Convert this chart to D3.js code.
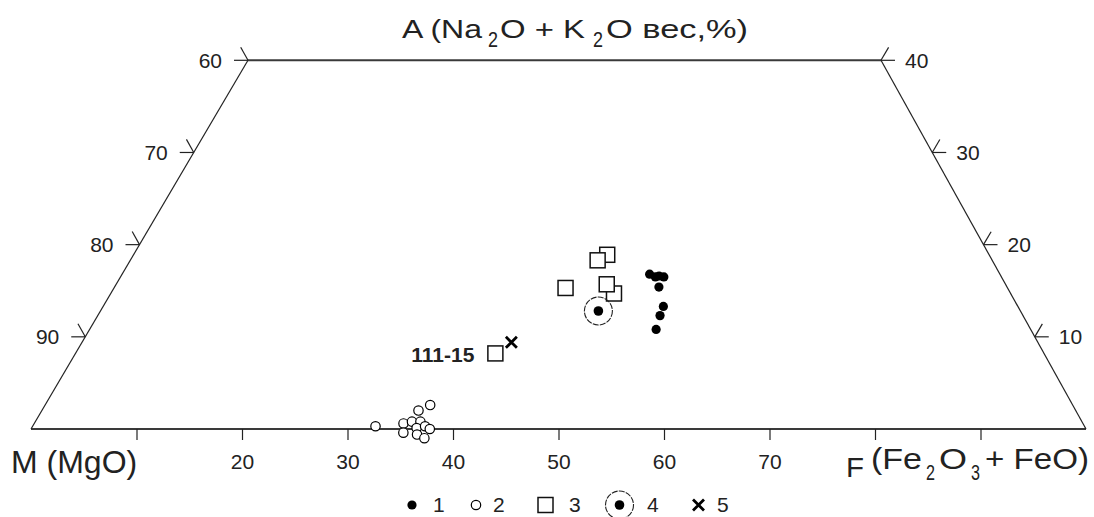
<!DOCTYPE html>
<meta charset="utf-8">
<title>AFM diagram</title>
<style>
  body { margin: 0; background: #fff; }
  svg text { font-family: "Liberation Sans", Arial, sans-serif; fill: #222; }
</style>
<script src="https://d3js.org/d3.v7.min.js"></script>
<svg id="afm" width="1094" height="517"></svg>
<script>
// values, A and F in wt.%  (M = 100 - A - F)
const s1A = [16.8, 16.5, 16.6, 16.5, 15.4, 13.3, 12.3, 10.8];
const s1F = [50.0, 50.7, 51.0, 51.5, 51.6, 53.1, 53.3, 53.7];
const s2A = [0.3, 0.6, -0.4, 0.8, 2.0, 2.6, 0.8, 0.1, 0.3, -0.6, -1.0, 0.0];
const s2F = [32.5, 35.0, 35.5, 35.7, 35.7, 36.5, 36.5, 36.5, 37.2, 36.9, 37.8, 37.8];
const s3A = [18.9, 18.3, 15.3, 14.7, 15.7, 8.2];
const s3F = [44.9, 44.3, 42.8, 47.7, 46.5, 39.8];
const s3Names = ["", "", "", "", "", "111-15"];
const s4A = [12.8];
const s4F = [47.2];
const s5A = [9.4];
const s5F = [40.7];

const leftTicks = [60, 70, 80, 90];      // M on the M-A side
const rightTicks = [40, 30, 20, 10];     // A on the A-F side
const bottomTicks = [10, 20, 30, 40, 50, 60, 70, 80, 90];
const bottomLabels = [20, 30, 40, 50, 60, 70];
const legendLabels = ["1", "2", "3", "4", "5"];
const topA = 40;

const svg = d3.select("#afm");

// ternary -> screen: bottom axis is F, height is A, apex is slightly skewed
const x = d3.scaleLinear().domain([0, 100]).range([31, 1086]);
const y = d3.scaleLinear().domain([0, 100]).range([429, -492.75]);
const skew = 0.5142;
const px = (a, f) => x(f + skew * a);
const py = a => y(a);

const ink = "#222";

// frame
const tl = [px(topA, 0), py(topA)], tr = [px(topA, 100 - topA), py(topA)];
const ml = [x(0), y(0)], fr = [x(100), y(0)];
const frame = svg.append("g").attr("fill", "none");
frame.append("line").attr("x1", tl[0]).attr("y1", tl[1]).attr("x2", tr[0]).attr("y2", tr[1])
  .attr("stroke", "#3a3a3a").attr("stroke-width", 2);
frame.append("line").attr("x1", ml[0]).attr("y1", ml[1]).attr("x2", fr[0]).attr("y2", fr[1])
  .attr("stroke", "#3a3a3a").attr("stroke-width", 2);
frame.append("line").attr("x1", ml[0]).attr("y1", ml[1]).attr("x2", tl[0]).attr("y2", tl[1])
  .attr("stroke", ink).attr("stroke-width", 1.2);
frame.append("line").attr("x1", fr[0]).attr("y1", fr[1]).attr("x2", tr[0]).attr("y2", tr[1])
  .attr("stroke", ink).attr("stroke-width", 1.2);

// bottom axis (F)
const bax = svg.append("g")
  .attr("transform", `translate(0,${y(0)})`)
  .call(d3.axisBottom(x).tickValues(bottomTicks).tickSize(11).tickPadding(14)
    .tickFormat(d => bottomLabels.includes(d) ? d : ""));
bax.select(".domain").remove();
bax.selectAll(".tick line").attr("stroke", ink).attr("stroke-width", 1.2);
bax.selectAll(".tick text").attr("font-size", 21).attr("font-family", "Liberation Sans, Arial, sans-serif").attr("fill", ink);

// side ticks
const tickLen = 14;
const lDir = [-0.486, -0.874], rDir = [0.507, -0.862];
const lg = svg.append("g");
leftTicks.forEach(m => {
  const a = 100 - m, X = px(a, 0), Y = py(a);
  lg.append("line").attr("x1", X).attr("y1", Y).attr("x2", X - tickLen).attr("y2", Y)
    .attr("stroke", ink).attr("stroke-width", 1.2);
  lg.append("line").attr("x1", X).attr("y1", Y).attr("x2", X + lDir[0] * 15).attr("y2", Y + lDir[1] * 15)
    .attr("stroke", ink).attr("stroke-width", 1.2);
  lg.append("text").attr("x", X - 26).attr("y", Y).attr("dy", "0.36em")
    .attr("text-anchor", "end").attr("font-size", 21).text(m);
});
rightTicks.forEach(a => {
  const X = px(a, 100 - a), Y = py(a);
  lg.append("line").attr("x1", X).attr("y1", Y).attr("x2", X + tickLen).attr("y2", Y)
    .attr("stroke", ink).attr("stroke-width", 1.2);
  lg.append("line").attr("x1", X).attr("y1", Y).attr("x2", X + rDir[0] * 15).attr("y2", Y + rDir[1] * 15)
    .attr("stroke", ink).attr("stroke-width", 1.2);
  lg.append("text").attr("x", X + 24).attr("y", Y).attr("dy", "0.36em")
    .attr("text-anchor", "start").attr("font-size", 21).text(a);
});

// axis titles, pieces stretched to the widths of the original lettering
function piece(txt, x0, y0, size, len) {
  svg.append("text").attr("x", x0).attr("y", y0).attr("font-size", size)
    .attr("textLength", len).attr("lengthAdjust", "spacingAndGlyphs").text(txt);
}
piece("A (Na", 402, 38, 25, 80);
piece("2", 488, 47, 22, 10);
piece("O + K", 500, 38, 25, 85);
piece("2", 593, 47, 22, 10);
piece("O вес,%)", 606, 38, 25, 142);

svg.append("text").attr("x", 11).attr("y", 473).attr("font-size", 32).text("M (MgO)");

piece("F", 846, 477, 28, 18);
piece("(Fe", 871, 469, 29, 51);
piece("2", 926, 480, 22, 9);
piece("O", 939, 469, 29, 28);
piece("3", 971, 480, 22, 9);
piece("+ FeO)", 985, 469, 29, 104);

// markers
function marker(g, type, cx, cy) {
  if (type === 1) {
    g.append("circle").attr("cx", cx).attr("cy", cy).attr("r", 4.6).attr("fill", "#000");
  } else if (type === 2) {
    g.append("circle").attr("cx", cx).attr("cy", cy).attr("r", 4.7)
      .attr("fill", "#fff").attr("stroke", "#000").attr("stroke-width", 1.2);
  } else if (type === 3) {
    g.append("rect").attr("x", cx - 7.5).attr("y", cy - 7.5).attr("width", 15).attr("height", 15)
      .attr("fill", "#fff").attr("stroke", "#111").attr("stroke-width", 1.5);
  } else if (type === 4) {
    g.append("circle").attr("cx", cx).attr("cy", cy).attr("r", 14)
      .attr("fill", "none").attr("stroke", "#222").attr("stroke-width", 1.1).attr("stroke-dasharray", "6,1.2");
    g.append("circle").attr("cx", cx).attr("cy", cy).attr("r", 4.8).attr("fill", "#000");
  } else {
    const h = 5.5;
    g.append("path").attr("d", `M${cx - h},${cy - h}L${cx + h},${cy + h}M${cx - h},${cy + h}L${cx + h},${cy - h}`)
      .attr("stroke", "#000").attr("stroke-width", 2.8).attr("fill", "none");
  }
}

const pts = svg.append("g");
s2A.forEach((a, i) => marker(pts, 2, px(a, s2F[i]), py(a)));
s3A.forEach((a, i) => {
  const cx = px(a, s3F[i]), cy = py(a);
  marker(pts, 3, cx, cy);
  if (s3Names[i]) {
    pts.append("text").attr("x", cx - 21).attr("y", cy + 9).attr("text-anchor", "end")
      .attr("font-size", 21).attr("font-weight", "bold").attr("fill", "#333").text(s3Names[i]);
  }
});
s4A.forEach((a, i) => marker(pts, 4, px(a, s4F[i]), py(a)));
s1A.forEach((a, i) => marker(pts, 1, px(a, s1F[i]), py(a)));
s5A.forEach((a, i) => marker(pts, 5, px(a, s5F[i]), py(a)));

// legend
const legX = [412, 476, 545.5, 619.5, 698.5];
const legTx = [433, 493, 569, 647, 717];
const leg = svg.append("g");
legendLabels.forEach((l, i) => {
  marker(leg, i + 1, legX[i], 505);
  leg.append("text").attr("x", legTx[i]).attr("y", 512).attr("font-size", 21).text(l);
});
</script>
